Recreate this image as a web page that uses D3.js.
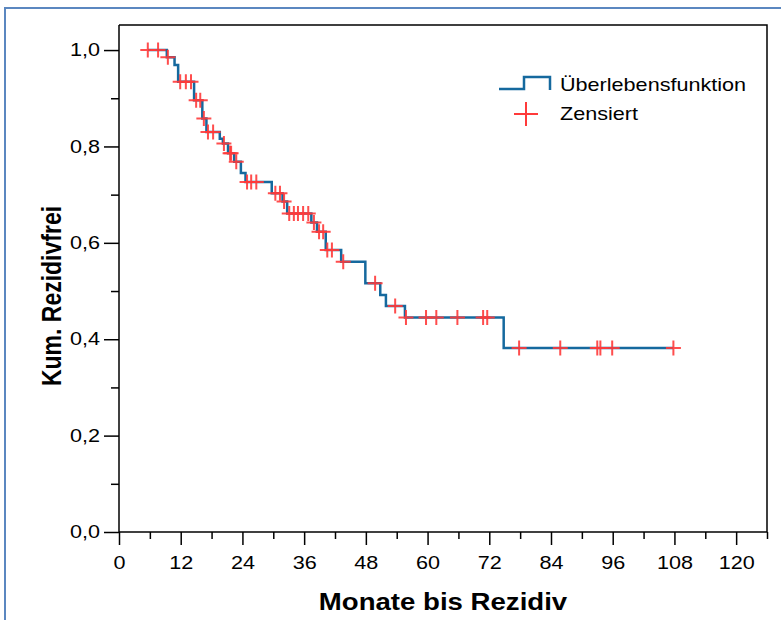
<!DOCTYPE html>
<html>
<head>
<meta charset="utf-8">
<script src="https://cdn.jsdelivr.net/npm/d3@7"></script>
<style>
  body { margin: 0; background: #fff; }
  svg text { font-family: "Liberation Sans", Arial, sans-serif; }
</style>
</head>
<body>
<svg id="viz" width="781" height="620"></svg>
<script>
// Kaplan-Meier steps: time of drop (months) -> new level
const stepTimes = [5.6, 9.3, 10.8, 11.5, 14.6, 16.2, 17.0, 19.6, 20.2, 21.2, 22.4, 23.7, 24.6,
    29.7, 31.8, 32.7, 37.4, 38.5, 40.2, 43.2, 47.9, 50.8, 51.9, 55.6, 74.8, 107.8];
const survival = [1.0, 0.985, 0.969, 0.934, 0.896, 0.858, 0.830, 0.816, 0.806, 0.786, 0.768, 0.745, 0.726,
    0.703, 0.686, 0.661, 0.642, 0.623, 0.585, 0.561, 0.516, 0.492, 0.469, 0.445, 0.382, 0.382];
// censored observations (months)
const censored = [5.6, 7.6, 9.5, 11.9, 13.0, 14.0, 15.0, 15.8, 16.5, 17.3, 18.3, 20.4, 21.6, 21.8,
    22.8, 24.9, 25.7, 26.7, 30.4, 31.3, 32.1, 33.1, 34.0, 34.8, 35.8, 36.8, 37.9, 38.9, 39.7,
    40.5, 41.4, 43.6, 49.8, 53.7, 55.8, 59.7, 61.7, 65.8, 70.8, 71.6, 77.8, 85.8, 93.0, 93.6,
    95.9, 107.8];
const xTicks = [0, 12, 24, 36, 48, 60, 72, 84, 96, 108, 120];
const xMinor = [6, 18, 30, 42, 54, 66, 78, 90, 102, 114, 126];
const yTicks = [0, 0.2, 0.4, 0.6, 0.8, 1.0];
const yMinor = [0.1, 0.3, 0.5, 0.7, 0.9];
const legendLabels = ["Überlebensfunktion", "Zensiert"];

const blue = "#15699e";
const red = "#ff3a3a";
const stretch = 1.2; // text in the picture is a bit wide

const svg = d3.select("#viz");

// outer frame
svg.append("path")
    .attr("d", "M5,621 V8 H782")
    .attr("fill", "none")
    .attr("stroke", "#5b87c0")
    .attr("stroke-width", 2);

const x = d3.scaleLinear().domain([0, 126]).range([119, 767]);
const y = d3.scaleLinear().domain([0, 1.052]).range([532, 25]);

// plot box top/right
svg.append("path")
    .attr("d", `M${x(0)},${y(1.052)} H${x(126)} V${y(0)}`)
    .attr("fill", "none")
    .attr("stroke", "#000")
    .attr("stroke-width", 1.5);

const fmt = (d) => d3.format(".1f")(d).replace(".", ",");

const yAxis = svg.append("g")
    .attr("transform", `translate(${x(0)},0)`)
    .call(d3.axisLeft(y).tickValues(yTicks).tickSize(15).tickSizeOuter(0).tickFormat(fmt));
svg.append("g")
    .attr("transform", `translate(${x(0)},0)`)
    .call(d3.axisLeft(y).tickValues(yMinor).tickSize(8).tickSizeOuter(0).tickFormat(""))
    .select(".domain").remove();

const xAxis = svg.append("g")
    .attr("transform", `translate(0,${y(0)})`)
    .call(d3.axisBottom(x).tickValues(xTicks).tickSize(13).tickSizeOuter(0).tickFormat(d3.format("d")));
svg.append("g")
    .attr("transform", `translate(0,${y(0)})`)
    .call(d3.axisBottom(x).tickValues(xMinor).tickSize(7).tickSizeOuter(0).tickFormat(""))
    .select(".domain").remove();

svg.selectAll(".domain, .tick line").attr("stroke", "#000").attr("stroke-width", 1.5);
svg.selectAll(".tick text").attr("font-size", 18).attr("fill", "#000");

yAxis.selectAll(".tick text")
    .attr("x", 0)
    .attr("transform", `translate(-19,0) scale(${stretch},1)`);
xAxis.selectAll(".tick text")
    .attr("y", 0)
    .attr("dy", "0.71em")
    .attr("transform", `translate(0,24) scale(${stretch},1)`);

// axis lines run through the 0 ticks (cross at corner)
yAxis.select(".domain").attr("d", `M0,${y(1.052)}V${y(0)}`);
xAxis.select(".domain").attr("d", `M${x(0)},0H${x(126)}`);

// titles
svg.append("text")
    .attr("transform", `translate(${(x(0) + x(126)) / 2},610) scale(${stretch},1)`)
    .attr("text-anchor", "middle")
    .attr("font-size", 23)
    .attr("font-weight", "bold")
    .text("Monate bis Rezidiv");

svg.append("text")
    .attr("transform", `translate(61,296) rotate(-90) scale(1,${stretch})`)
    .attr("text-anchor", "middle")
    .attr("font-size", 23)
    .attr("font-weight", "bold")
    .text("Kum. Rezidivfrei");

// survival step curve
const pts = stepTimes.map((t, i) => [t, survival[i]]);
const line = d3.line()
    .x((d) => x(d[0]))
    .y((d) => y(d[1]))
    .curve(d3.curveStepAfter);
svg.append("path")
    .datum(pts)
    .attr("d", line)
    .attr("fill", "none")
    .attr("stroke", blue)
    .attr("stroke-width", 2.5);

// censor marks
const levelAt = (t) => survival[Math.max(0, d3.bisectRight(stepTimes, t) - 1)];
const cross = (s) => `M${-s},0H${s}M0,${-s}V${s}`;
svg.append("g")
    .selectAll("path")
    .data(censored)
    .enter()
    .append("path")
    .attr("transform", (d) => `translate(${x(d)},${y(levelAt(d))})`)
    .attr("d", cross(7.5))
    .attr("fill", "none")
    .attr("stroke", red)
    .attr("stroke-opacity", 0.9)
    .attr("stroke-width", 2);

// legend
const lg = svg.append("g");
lg.append("path")
    .attr("d", "M499,89H524V77H550V90")
    .attr("fill", "none")
    .attr("stroke", blue)
    .attr("stroke-width", 2.5);
lg.append("path")
    .attr("transform", "translate(526,114)")
    .attr("d", cross(12))
    .attr("fill", "none")
    .attr("stroke", red)
    .attr("stroke-width", 2);
lg.selectAll("text")
    .data(legendLabels)
    .enter()
    .append("text")
    .attr("transform", (d, i) => `translate(560,${91 + i * 29}) scale(${stretch},1)`)
    .attr("font-size", 18)
    .text((d) => d);
</script>
</body>
</html>
